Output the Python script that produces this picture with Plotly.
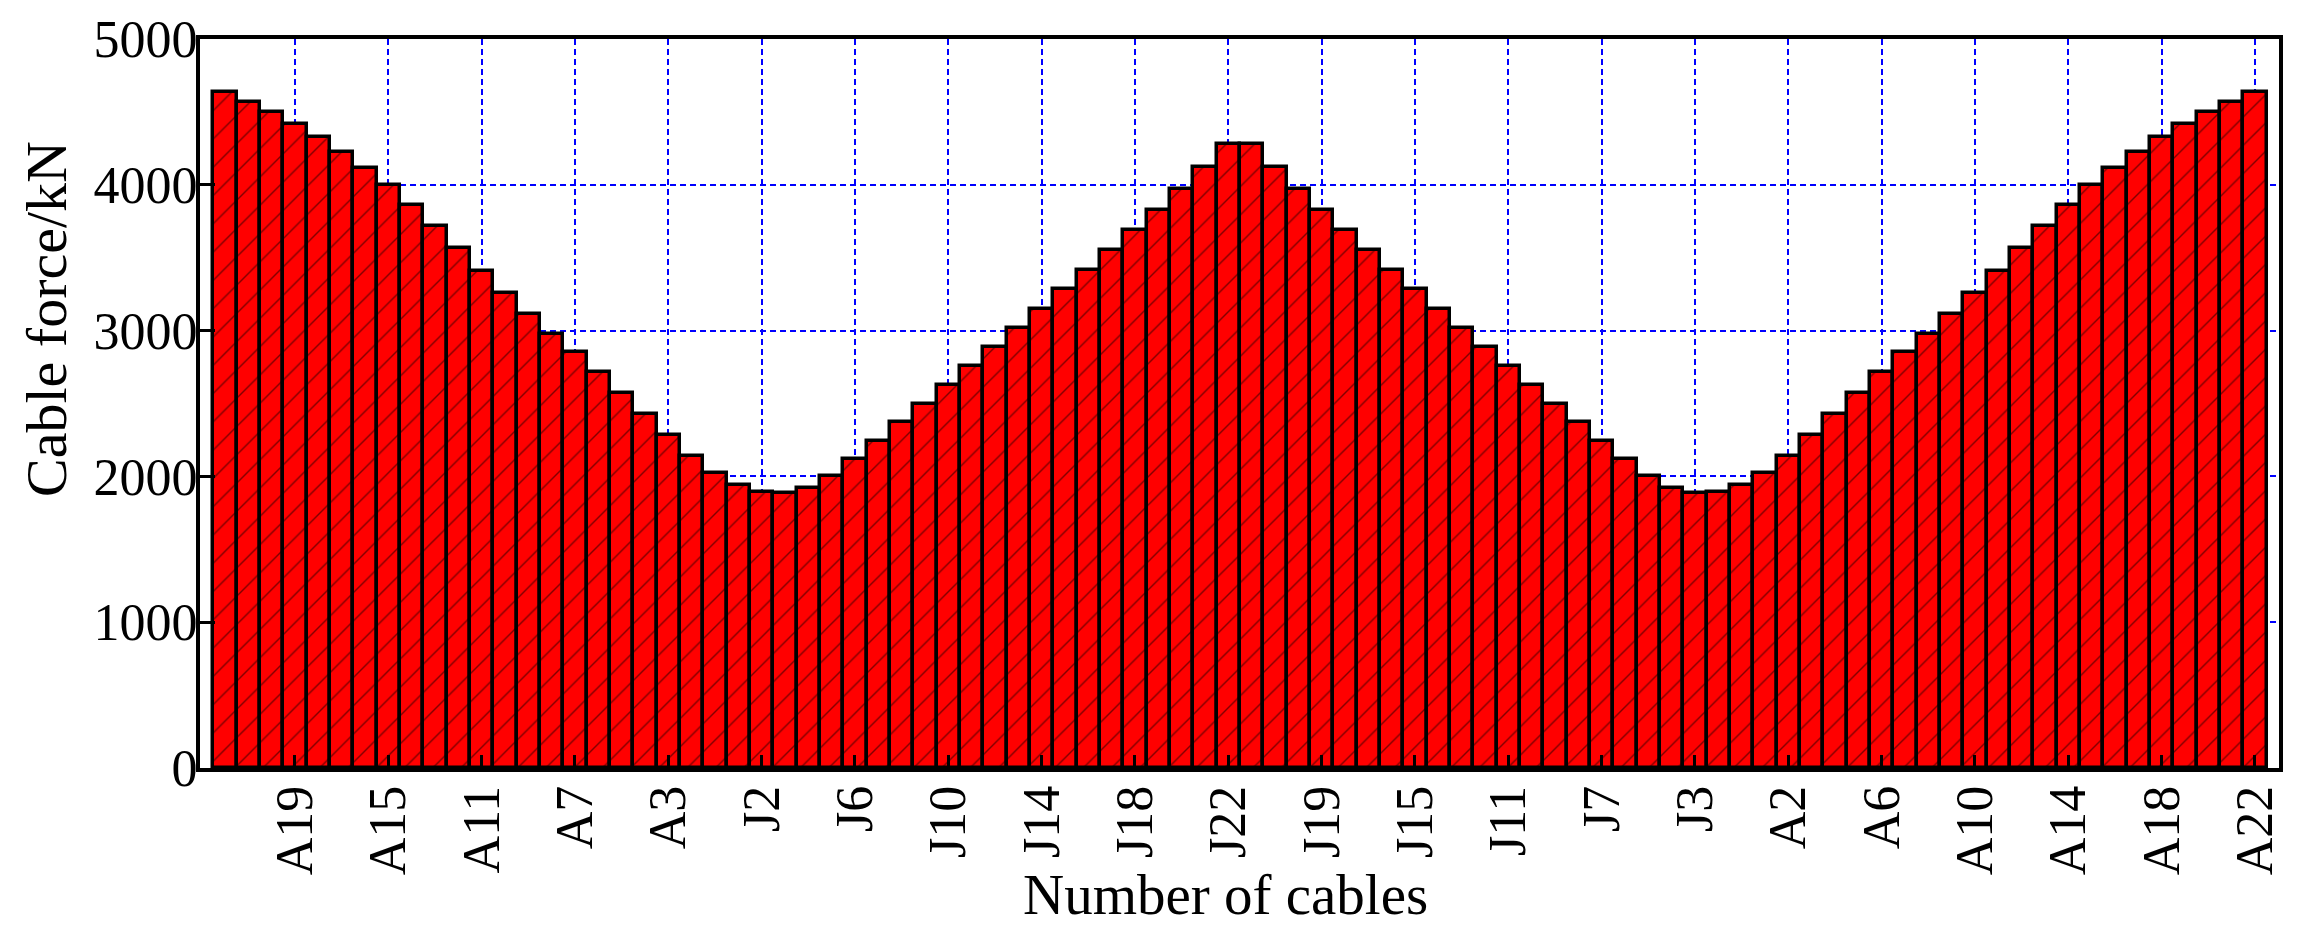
import plotly.graph_objects as go

# cable order along the bridge: A22..A1, J1..J22 | J22..J1, A1..A22
side_a = ["A%d" % i for i in range(22, 0, -1)]
side_j = ["J%d" % i for i in range(1, 23)]
cable_names = side_a + side_j + side_j[::-1] + side_a[::-1]

# cable force (kN)
force_left = [4638, 4568, 4499, 4419, 4327, 4227, 4115, 3996, 3861, 3720, 3567,
              3409, 3260, 3114, 2977, 2851, 2716, 2574, 2428, 2284, 2142, 2023,
              1941, 1893, 1884, 1920, 2003, 2122, 2245, 2373, 2497, 2629, 2757,
              2887, 3016, 3150, 3285, 3416, 3553, 3690, 3829, 3973, 4124, 4277]
force_right = [4277, 4124, 3973, 3829, 3690, 3553, 3416, 3285, 3150, 3016, 2887,
               2757, 2629, 2497, 2373, 2245, 2122, 2003, 1920, 1884, 1893, 1941,
               2023, 2142, 2284, 2428, 2574, 2716, 2851, 2977, 3114, 3260, 3409,
               3567, 3720, 3861, 3996, 4115, 4227, 4327, 4419, 4499, 4568, 4638]
cable_force = force_left + force_right

tick_pos = list(range(3, len(cable_names), 4))
tick_text = [cable_names[i] for i in tick_pos]

FONT = "Liberation Serif"

fig = go.Figure()
fig.add_trace(go.Bar(
    x=list(range(len(cable_force))), y=cable_force, width=1,
    marker=dict(color="#ff0000", line=dict(color="black", width=3.5),
                pattern=dict(shape="/", fgcolor="black", bgcolor="#ff0000",
                             size=20, solidity=0.07)),
    hovertext=cable_names, hoverinfo="text+y", textposition="none",
    showlegend=False))

# the page body adds 8px around the figure, so the figure is 16px smaller
fig.update_layout(
    width=2286, height=928,
    margin=dict(l=192, r=15, t=31, b=168),
    paper_bgcolor="white", plot_bgcolor="white",
    bargap=0,
    font=dict(family=FONT, size=52, color="black"),
)

fig.update_xaxes(
    range=[-1.07, 88.03], tickvals=tick_pos, ticktext=tick_text, tickangle=-90,
    ticks="inside", ticklen=13, tickwidth=3, tickcolor="black",
    showline=True, linewidth=4, linecolor="black", mirror=True,
    showgrid=True, gridcolor="#0000ff", gridwidth=1.5, griddash="6px,4px",
    zeroline=False, tickfont=dict(size=52), ticklabelstandoff=-7,
    automargin=False)

fig.update_yaxes(
    range=[0, 5000], tickvals=[0, 1000, 2000, 3000, 4000, 5000],
    ticks="inside", ticklen=15, tickwidth=3, tickcolor="black",
    showline=True, linewidth=4, linecolor="black", mirror=True,
    showgrid=True, gridcolor="#0000ff", gridwidth=1.5, griddash="6px,4px",
    zeroline=False, tickfont=dict(size=52), ticklabelstandoff=-12,
    automargin=False)

# axis titles placed as annotations to follow the original position
fig.add_annotation(text="Cable force/kN", xref="paper", yref="paper",
                   x=-0.0736, y=0.616, xanchor="center", yanchor="middle",
                   textangle=-90, showarrow=False, font=dict(size=58))
fig.add_annotation(text="Number of cables", xref="paper", yref="paper",
                   x=0.4933, y=-0.173, xanchor="center", yanchor="middle",
                   showarrow=False, font=dict(size=57))

fig.write_html("out.html")
